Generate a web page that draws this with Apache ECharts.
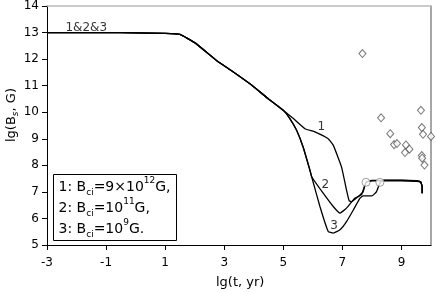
<!DOCTYPE html>
<html><head><meta charset="utf-8">
<script src="https://cdn.jsdelivr.net/npm/echarts@6/dist/echarts.min.js"></script>
<style>html,body{margin:0;padding:0;background:#fff}#c{width:436px;height:293px}</style>
</head><body><div id="c"></div>
<script>
// tick labels
const xTicks = [-3, -1, 1, 3, 5, 7, 9];
const yTicks = [5, 6, 7, 8, 9, 10, 11, 12, 13, 14];
// evolution curves [lg t, lg B]
const curve1 = [[-3,13.0],[-1,13.0],[0,12.99],[1,12.97],[1.5,12.93],[2,12.62],[2.75,11.94],[3.2,11.6],[3.87,11.07],[4.5,10.5],[5.0,10.07],
  [5.34,9.76],[5.73,9.38],[6.07,9.26],[6.52,9.0],[6.69,8.76],[6.97,7.94],[7.14,7.07],[7.23,6.67],[7.31,6.63],[7.53,6.82],[7.7,7.0],[7.8,7.36],[8.0,7.42],[8.3,7.42],[9.0,7.42],[9.5,7.40],[9.65,7.36],[9.7,7.2],[9.7,6.95]];
const curve2 = [[-3,13.0],[-1,13.0],[0,12.99],[1,12.97],[1.5,12.93],[2,12.62],[2.75,11.94],[3.2,11.6],[3.87,11.07],[4.5,10.5],[5.0,10.07],
  [5.2,9.8],[5.45,9.32],[5.67,8.69],[5.9,7.82],[5.96,7.57],[6.35,6.95],[6.69,6.45],[6.92,6.2],[7.14,6.39],[7.42,6.76],[7.65,6.9],[7.8,7.36],[8.0,7.43],[8.3,7.43],[9.0,7.43],[9.5,7.41],[9.65,7.37],[9.7,7.2],[9.7,6.95]];
const curve3 = [[-3,13.0],[-1,13.0],[0,12.99],[1,12.97],[1.5,12.93],[2,12.62],[2.75,11.94],[3.2,11.6],[3.87,11.07],[4.5,10.5],[5.0,10.07],
  [5.2,9.8],[5.45,9.32],[5.67,8.69],[5.9,7.82],[5.96,7.57],[6.24,6.45],[6.52,5.51],[6.69,5.45],[6.92,5.57],[7.14,5.88],[7.37,6.32],[7.59,6.76],[7.7,6.85],[8.0,6.85],[8.15,7.0],[8.28,7.36],[8.4,7.44],[9.0,7.44],[9.5,7.42],[9.65,7.38],[9.7,7.2],[9.7,6.95]];
// observed objects (diamonds)
const observed = [[7.68,12.21],[9.66,10.07],[8.31,9.79],[9.69,9.42],[9.73,9.17],[10.0,9.09],[8.62,9.19],[8.75,8.78],[8.85,8.82],[9.15,8.77],[9.27,8.61],[9.12,8.48],[9.69,8.37],[9.70,8.27],[9.78,8.01]];
// open circles
const circles = [[7.8,7.36],[8.27,7.36]];
// curve labels
const curveLabels = [[6.29,9.43,'1'],[6.42,7.25,'2'],[6.72,5.71,'3'],[-1.67,13.19,'1&2&3']];

const FONT = 'DejaVu Sans';
const chart = echarts.init(document.getElementById('c'), null, {renderer:'canvas'});
const lineS = (d) => ({type:'line', data:d, showSymbol:false, symbol:'none', smooth:0.12, lineStyle:{color:'#000', width:1.3}, z:3, animation:false});
chart.setOption({
  animation:false,
  grid:{left:47, right:5, top:5, bottom:48},
  xAxis:[{type:'value', min:-3, max:10,
    axisLine:{onZero:false, lineStyle:{color:'#000', width:1}},
    axisTick:{customValues:xTicks, length:5, lineStyle:{color:'#000'}},
    axisLabel:{customValues:xTicks, color:'#000', fontFamily:FONT, fontSize:12, margin:12},
    splitLine:{show:false}},
    {type:'value', position:'top', min:-3, max:10, axisLine:{show:true, onZero:false, lineStyle:{color:'#bbb', width:1.5}}, axisTick:{show:false}, axisLabel:{show:false}, splitLine:{show:false}}],
  yAxis:[{type:'value', min:5, max:14, interval:1,
    axisLine:{show:true, onZero:false, lineStyle:{color:'#000', width:1}},
    axisTick:{show:true, length:5, lineStyle:{color:'#000'}},
    axisLabel:{color:'#000', fontFamily:FONT, fontSize:12, margin:8},
    splitLine:{show:false}},
    {type:'value', position:'right', min:5, max:14, axisLine:{show:true, onZero:false, lineStyle:{color:'#888', width:1.5}}, axisTick:{show:false}, axisLabel:{show:false}, splitLine:{show:false}}],
  series:[
    lineS(curve1), lineS(curve2), lineS(curve3),
    {type:'scatter', data:observed, symbol:'diamond', symbolSize:[7,8], itemStyle:{color:'#fff', borderColor:'#555', borderWidth:1}, z:4},
    {type:'scatter', data:circles, symbol:'circle', symbolSize:8, itemStyle:{color:'#fff', borderColor:'#888', borderWidth:1}, z:5},
    {type:'scatter', data:curveLabels, symbolSize:0, z:6,
      label:{show:true, position:'inside', formatter:(p)=>p.value[2], color:'#000', fontFamily:FONT, fontSize:12}}
  ],
  graphic:[
    {type:'group', left:53, top:174, children:[
      {type:'rect', shape:{x:0,y:0,width:123,height:66}, style:{fill:'#fff', stroke:'#000', lineWidth:1}},
      {type:'text', x:5, y:2, style:{
        text:'{n|1: B}{sub|ci}{n|=9×10}{sup|12}{n|G,}\n{n|2: B}{sub|ci}{n|=10}{sup|11}{n|G,}\n{n|3: B}{sub|ci}{n|=10}{sup|9}{n|G.}',
        fill:'#000', font:'14px "DejaVu Sans"',
        rich:{
          n:{fontFamily:FONT, fontSize:14, lineHeight:21, color:'#000'},
          sub:{fontFamily:FONT, fontSize:9, lineHeight:12, verticalAlign:'bottom', color:'#000'},
          sup:{fontFamily:FONT, fontSize:9, lineHeight:12, verticalAlign:'top', color:'#000'}
        }}}
    ]},
    {type:'text', left:216, top:276, style:{text:'lg(t, yr)', fill:'#000', font:'13px "DejaVu Sans"'}},
    {type:'text', x:4, y:142, rotation:Math.PI/2, style:{
      text:'{n|lg(B}{s|s}{n|, G)}', fill:'#000',
      rich:{n:{fontFamily:FONT, fontSize:13, color:'#000', lineHeight:16}, s:{fontFamily:FONT, fontSize:9, fontStyle:'italic', color:'#000', verticalAlign:'bottom', lineHeight:16}}}}
  ]
});
</script></body></html>
